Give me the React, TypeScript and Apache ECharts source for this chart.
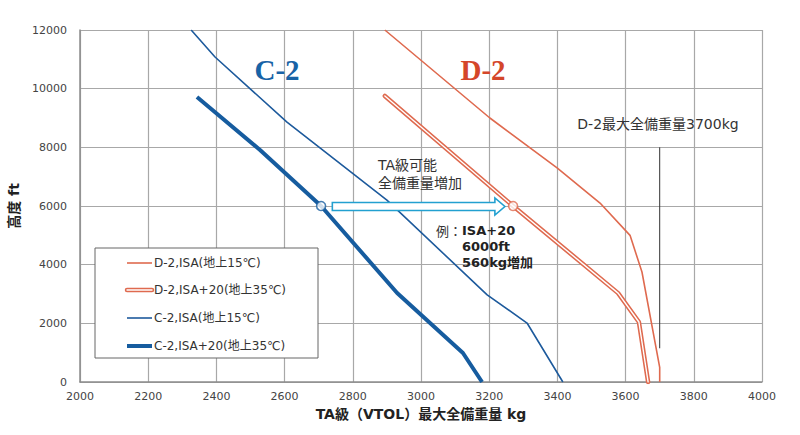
import React, { useEffect, useRef } from "react";
import * as echarts from "echarts";

// ---- data (kg, ft) ----
const d2IsaKg = [2894, 3202, 3399, 3525, 3613, 3648, 3700, 3700];
const d2IsaFt = [12000, 9000, 7300, 6100, 5000, 3750, 500, 0];

const d2Isa20Kg = [2894, 3270, 3578, 3639, 3666];
const d2Isa20Ft = [9750, 6000, 3030, 2045, 0];

const c2IsaKg = [2326, 2396, 2607, 2900, 3194, 3311, 3416];
const c2IsaFt = [12000, 11080, 8860, 6200, 2970, 2010, 0];

const c2Isa20Kg = [2343, 2528, 2707, 2930, 3123, 3179];
const c2Isa20Ft = [9716, 7909, 6000, 3034, 989, 0];

const examplePointC2 = [2707, 6000];
const examplePointD2 = [3270, 6000];
const arrowFromKg = 2740;
const arrowToKg = 3246;
const arrowFt = 6000;

const maxWeightLineKg = [3700, 3700];
const maxWeightLineFt = [1150, 8000];

const legendNames = [
  "D-2,ISA(地上15℃)",
  "D-2,ISA+20(地上35℃)",
  "C-2,ISA(地上15℃)",
  "C-2,ISA+20(地上35℃)",
];

const xMin = 2000, xMax = 4000, xStep = 200;
const yMin = 0, yMax = 12000, yStep = 2000;

const zip = (a: number[], b: number[]) => a.map((v, i) => [v, b[i]]);

const RED = "#df6a4f";
const RED_DARK = "#d4462a";
const BLUE = "#1d5a9c";
const BLUE_THICK = "#165c9f";
const ARROW = "#22a0d0";
const FONT = "'DejaVu Sans','Noto Sans CJK JP',sans-serif";
const CJK = "'Noto Sans CJK JP','DejaVu Sans',sans-serif";

export default function App() {
  const ref = useRef<HTMLDivElement>(null);
  useEffect(() => {
    const chart = echarts.init(ref.current!, null, { renderer: "svg" });
    chart.setOption({
      animation: false,
      backgroundColor: "#ffffff",
      grid: { left: 80, right: 38, top: 30, bottom: 53, containLabel: false, outerBoundsMode: "none" },
      xAxis: {
        type: "value",
        min: xMin,
        max: xMax,
        interval: xStep,
        axisLine: { show: true, lineStyle: { color: "#8c8c8c", width: 1.5 } },
        axisTick: { show: false },
        splitLine: { show: true, lineStyle: { color: "#a8a8a8", width: 1.2 } },
        axisLabel: {
          color: "#444",
          fontSize: 11,
          fontFamily: FONT,
          margin: 9,
          formatter: (v: number) => String(v),
        },
        name: "TA級（VTOL）最大全備重量 kg",
        nameLocation: "middle",
        nameGap: 31,
        nameTextStyle: {
          fontWeight: "bold",
          fontSize: 14,
          color: "#222",
          fontFamily: FONT,
          verticalAlign: "middle",
        },
      },
      yAxis: {
        type: "value",
        min: yMin,
        max: yMax,
        interval: yStep,
        axisLine: { show: true, lineStyle: { color: "#8c8c8c", width: 1.5 } },
        axisTick: { show: false },
        splitLine: { show: true, lineStyle: { color: "#a8a8a8", width: 1.2 } },
        axisLabel: {
          color: "#444",
          fontSize: 11,
          fontFamily: FONT,
          margin: 13,
          formatter: (v: number) => String(v),
        },
        name: "高度 ft",
        nameLocation: "middle",
        nameGap: 63,
        nameTextStyle: {
          fontWeight: "bold",
          fontSize: 14,
          color: "#222",
          fontFamily: FONT,
          verticalAlign: "middle",
        },
      },
      series: [
        {
          name: legendNames[0],
          type: "line",
          data: zip(d2IsaKg, d2IsaFt),
          symbol: "none",
          lineStyle: { color: RED, width: 1.6 },
        },
        {
          name: legendNames[1],
          type: "line",
          data: zip(d2Isa20Kg, d2Isa20Ft),
          symbol: "none",
          lineStyle: { color: RED, width: 4.5, cap: "round" },
        },
        {
          name: legendNames[1] + "_inner",
          type: "line",
          data: zip(d2Isa20Kg, d2Isa20Ft),
          symbol: "none",
          lineStyle: { color: "#ffffff", width: 1.4, cap: "round" },
        },
        {
          name: legendNames[2],
          type: "line",
          data: zip(c2IsaKg, c2IsaFt),
          symbol: "none",
          lineStyle: { color: BLUE, width: 1.6 },
        },
        {
          name: legendNames[3],
          type: "line",
          data: zip(c2Isa20Kg, c2Isa20Ft),
          symbol: "none",
          lineStyle: { color: BLUE_THICK, width: 4 },
        },
        {
          name: "max",
          type: "line",
          data: zip(maxWeightLineKg, maxWeightLineFt),
          symbol: "none",
          lineStyle: { color: "#333", width: 1 },
        },
        {
          name: "ptC2",
          type: "scatter",
          data: [examplePointC2],
          symbol: "circle",
          symbolSize: 9,
          itemStyle: { color: "#fff", borderColor: BLUE_THICK, borderWidth: 1.6 },
          z: 5,
        },
        {
          name: "ptD2",
          type: "scatter",
          data: [examplePointD2],
          symbol: "circle",
          symbolSize: 9,
          itemStyle: { color: "#fff", borderColor: RED, borderWidth: 1.6 },
          z: 5,
        },
      ],
    });

    const toPx = (p: number[]) => chart.convertToPixel({ gridIndex: 0 }, p) as number[];
    const a0 = toPx([arrowFromKg, arrowFt]);
    const a1 = toPx([arrowToKg, arrowFt]);
    const cy = a0[1] + 0.5;
    const bodyH = 4;
    const headH = 8.5;
    const headL = 10;
    const arrowPts = [
      [a0[0], cy - bodyH],
      [a1[0] - headL, cy - bodyH],
      [a1[0] - headL, cy - headH],
      [a1[0], cy],
      [a1[0] - headL, cy + headH],
      [a1[0] - headL, cy + bodyH],
      [a0[0], cy + bodyH],
    ];

    const legendX = 127;
    const legendLen = 25;
    const legendYs = [263, 290, 318, 346];
    const legendStyles = [
      [{ stroke: RED, lineWidth: 1.6 }],
      [
        { stroke: RED, lineWidth: 4.5, lineCap: "round" },
        { stroke: "#fff", lineWidth: 1.4, lineCap: "round" },
      ],
      [{ stroke: BLUE, lineWidth: 1.6 }],
      [{ stroke: BLUE_THICK, lineWidth: 4 }],
    ];
    const legendEls: any[] = [
      {
        type: "rect",
        shape: { x: 95, y: 248, width: 223, height: 110 },
        style: { fill: "#fff", stroke: "#666", lineWidth: 1 },
        z: 10,
      },
    ];
    legendNames.forEach((n, i) => {
      legendStyles[i].forEach((st) => {
        legendEls.push({
          type: "line",
          shape: { x1: legendX, y1: legendYs[i], x2: legendX + legendLen, y2: legendYs[i] },
          style: st,
          z: 11,
        });
      });
      legendEls.push({
        type: "text",
        x: legendX + legendLen + 2,
        y: legendYs[i],
        style: {
          text: n,
          fill: "#333",
          font: `12px ${FONT}`,
          verticalAlign: "middle",
        },
        z: 11,
      });
    });

    chart.setOption({
      graphic: [
        {
          type: "polygon",
          shape: { points: arrowPts },
          style: { fill: "#fff", stroke: ARROW, lineWidth: 1.6 },
          z: 4,
        },
        {
          type: "text",
          x: 277,
          y: 70,
          style: {
            text: "C-2",
            fill: "#1863a6",
            font: "bold 29px 'Liberation Serif',serif",
            align: "center",
            verticalAlign: "middle",
          },
        },
        {
          type: "text",
          x: 483,
          y: 70,
          style: {
            text: "D-2",
            fill: RED_DARK,
            font: "bold 29px 'Liberation Serif',serif",
            align: "center",
            verticalAlign: "middle",
          },
        },
        {
          type: "text",
          x: 378,
          y: 156,
          style: {
            text: "TA級可能\n全備重量増加",
            fill: "#333",
            font: `14px ${FONT}`,
            lineHeight: 18,
          },
        },
        {
          type: "text",
          x: 436,
          y: 230,
          style: {
            text: "例：",
            fill: "#333",
            font: `13px ${CJK}`,
            verticalAlign: "middle",
          },
        },
        {
          type: "text",
          x: 462,
          y: 222,
          style: {
            text: "ISA+20\n6000ft\n560kg増加",
            fill: "#222",
            font: `bold 13px ${FONT}`,
            lineHeight: 16,
          },
        },
        {
          type: "text",
          x: 658,
          y: 124,
          style: {
            text: "D-2最大全備重量3700kg",
            fill: "#333",
            font: `14px ${FONT}`,
            align: "center",
            verticalAlign: "middle",
          },
        },
        ...legendEls,
      ],
    });

    return () => chart.dispose();
  }, []);
  return (
    <div
      ref={ref}
      style={{ position: "fixed", left: 0, top: 0, width: 800, height: 435 }}
    />
  );
}
